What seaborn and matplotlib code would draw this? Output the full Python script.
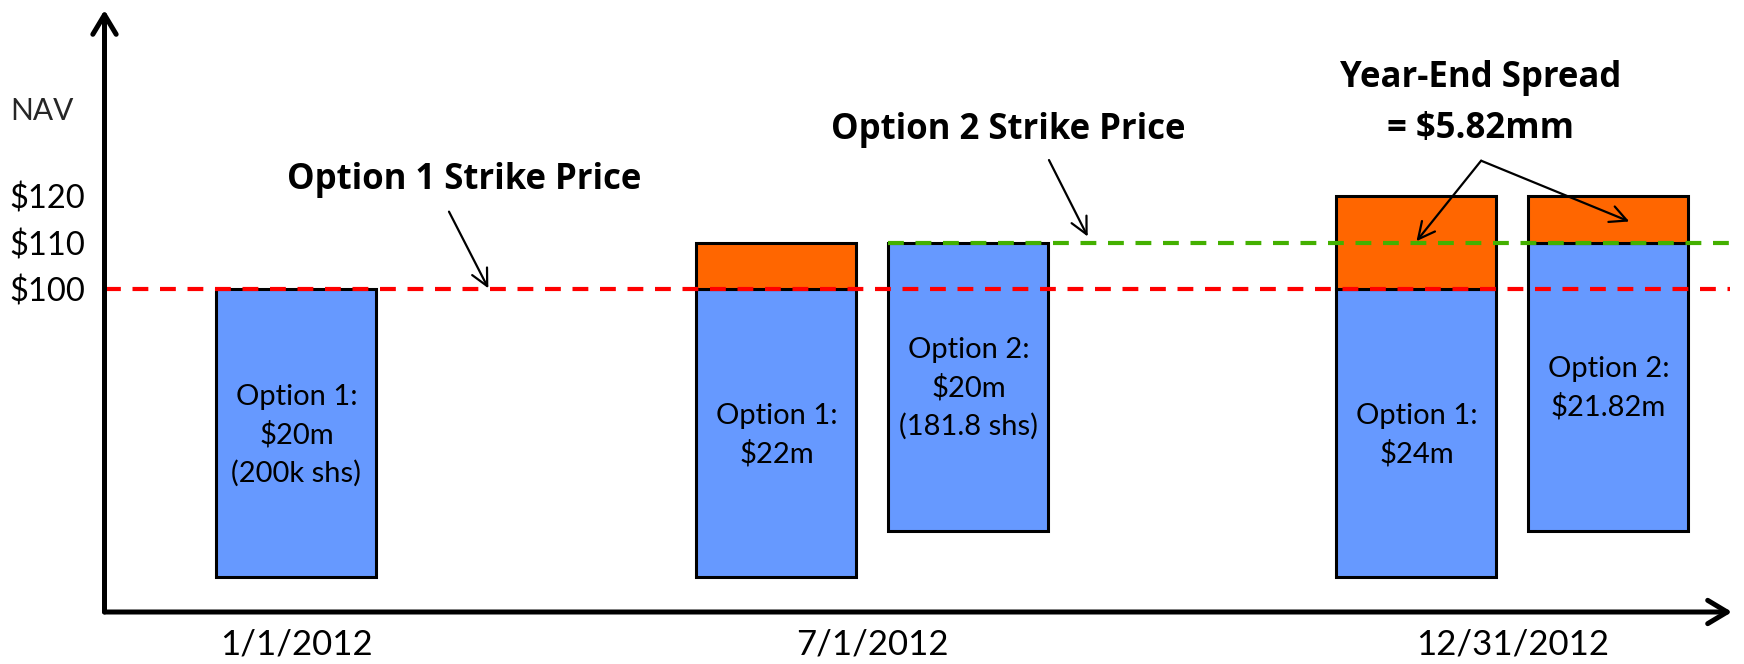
import matplotlib
matplotlib.use("Agg")
import matplotlib.pyplot as plt
import seaborn as sns

# ---------------- data ----------------
dates = ["1/1/2012", "7/1/2012", "12/31/2012"]
strike_opt1 = 100
strike_opt2 = 110

opt1_dates = ["1/1/2012", "7/1/2012", "12/31/2012"]
opt1_nav = [100, 110, 120]
opt1_labels = [["Option 1:", "$20m", "(200k shs)"],
               ["Option 1:", "$22m"],
               ["Option 1:", "$24m"]]

opt2_dates = ["7/1/2012", "12/31/2012"]
opt2_nav = [110, 120]
opt2_labels = [["Option 2:", "$20m", "(181.8 shs)"],
               ["Option 2:", "$21.82m"]]

yticks = [100, 110, 120]
ytick_labels = ["$100", "$110", "$120"]

title_opt1 = "Option 1 Strike Price"
title_opt2 = "Option 2 Strike Price"
title_spread = ["Year-End Spread", "= $5.82mm"]

# ---------------- layout / style ----------------
date_pos = {"1/1/2012": 1.2, "7/1/2012": 4.8, "12/31/2012": 8.8}
pair_offset = 0.6
bar_w = 1.0
box_depth = 61.4          # visual depth of the blue boxes (NAV units)
line_step = 8.17          # text line spacing inside boxes (NAV units)
cap_half = 2.05

BLUE = "#6699FF"
ORANGE = "#FF6600"
RED = "#FF0000"
GREEN = "#44B000"

sns.set_theme(style="white")
plt.rcParams["font.family"] = ["Lato", "DejaVu Sans"]

fig = plt.figure(figsize=(17.44, 6.64), dpi=100)
ax = fig.add_axes([0.05992, 0.07831, 0.93320, 0.90663])
ax.set_xlim(0, 10.172)
ax.set_ylim(31.24, 159.59)
for s in ax.spines.values():
    s.set_visible(False)
ax.set_facecolor("none")
fig.patch.set_facecolor("white")


def draw_box(x, strike, nav, lines):
    ax.bar(x, box_depth, bottom=strike - box_depth, width=bar_w,
           color=BLUE, edgecolor="black", linewidth=2.2, zorder=2)
    if nav > strike:
        ax.bar(x, nav - strike, bottom=strike, width=bar_w,
               color=ORANGE, edgecolor="black", linewidth=2.2, zorder=2)
    center = strike - box_depth / 2
    n = len(lines)
    for i, t in enumerate(lines):
        yc = center + ((n - 1) / 2 - i) * line_step
        ax.text(x, yc - cap_half, t, ha="center", va="baseline",
                fontsize=21, color="black", zorder=4)


opt1_x = []
for d, nav, lab in zip(opt1_dates, opt1_nav, opt1_labels):
    x = date_pos[d] - (pair_offset if d in opt2_dates else 0)
    opt1_x.append(x)
    draw_box(x, strike_opt1, nav, lab)

opt2_x = []
for d, nav, lab in zip(opt2_dates, opt2_nav, opt2_labels):
    x = date_pos[d] + pair_offset
    opt2_x.append(x)
    draw_box(x, strike_opt2, nav, lab)

# strike price lines
x_end = 10.16
ax.hlines(strike_opt1, 0, x_end, colors=RED, linewidth=3,
          linestyles=(0, (3.8, 2.8)), zorder=3)
ax.hlines(strike_opt2, opt2_x[0] - bar_w / 2, x_end, colors=GREEN, linewidth=3,
          linestyles=(0, (3.8, 2.8)), zorder=3)

# axes with arrows
arrow_kw = dict(arrowstyle="->,head_length=0.5,head_width=0.3", lw=3.6,
                color="black", mutation_scale=28, shrinkA=0, shrinkB=0)
ax.annotate("", xy=(0, 1), xytext=(0, 0), xycoords="axes fraction",
            arrowprops=arrow_kw, zorder=5)
ax.annotate("", xy=(1, 0), xytext=(0, 0), xycoords="axes fraction",
            arrowprops=arrow_kw, zorder=5)

ax.set_yticks(yticks, ytick_labels)
ax.set_xticks([date_pos[d] for d in dates], dates)
ax.tick_params(axis="y", length=0, pad=14, labelsize=23.5, colors="black")
ax.tick_params(axis="x", length=0, pad=12, labelsize=25, colors="black")
ax.text(-0.39, 138.0, "NAV", ha="center", va="center", fontsize=21.5,
        clip_on=False)

# annotations
bold = dict(fontsize=25, fontweight="bold", color="black", ha="center",
            va="baseline", family=["Open Sans", "DejaVu Sans"])
ax.text(2.247, 121.37, title_opt1, **bold)
ax.text(5.647, 132.09, title_opt2, **bold)
ax.text(8.603, 143.24, title_spread[0], **bold)
ax.text(8.603, 132.24, title_spread[1], **bold)

ann_kw = dict(arrowstyle="->", lw=1.6, color="black", mutation_scale=30,
              shrinkA=0, shrinkB=0)
ax.annotate("", xy=(2.399, strike_opt1 + 0.25), xytext=(2.153, 116.6),
            arrowprops=ann_kw, zorder=6)
ax.annotate("", xy=(6.145, strike_opt2 + 1.3), xytext=(5.903, 127.6),
            arrowprops=ann_kw, zorder=6)
ax.annotate("", xy=(opt1_x[2], strike_opt2 + 0.3), xytext=(8.604, 127.46),
            arrowprops=ann_kw, zorder=6)
ax.annotate("", xy=(opt2_x[1] + 0.13, (strike_opt2 + opt2_nav[1]) / 2 - 0.5),
            xytext=(8.604, 127.46), arrowprops=ann_kw, zorder=6)

fig.savefig("out.png", dpi=100)
